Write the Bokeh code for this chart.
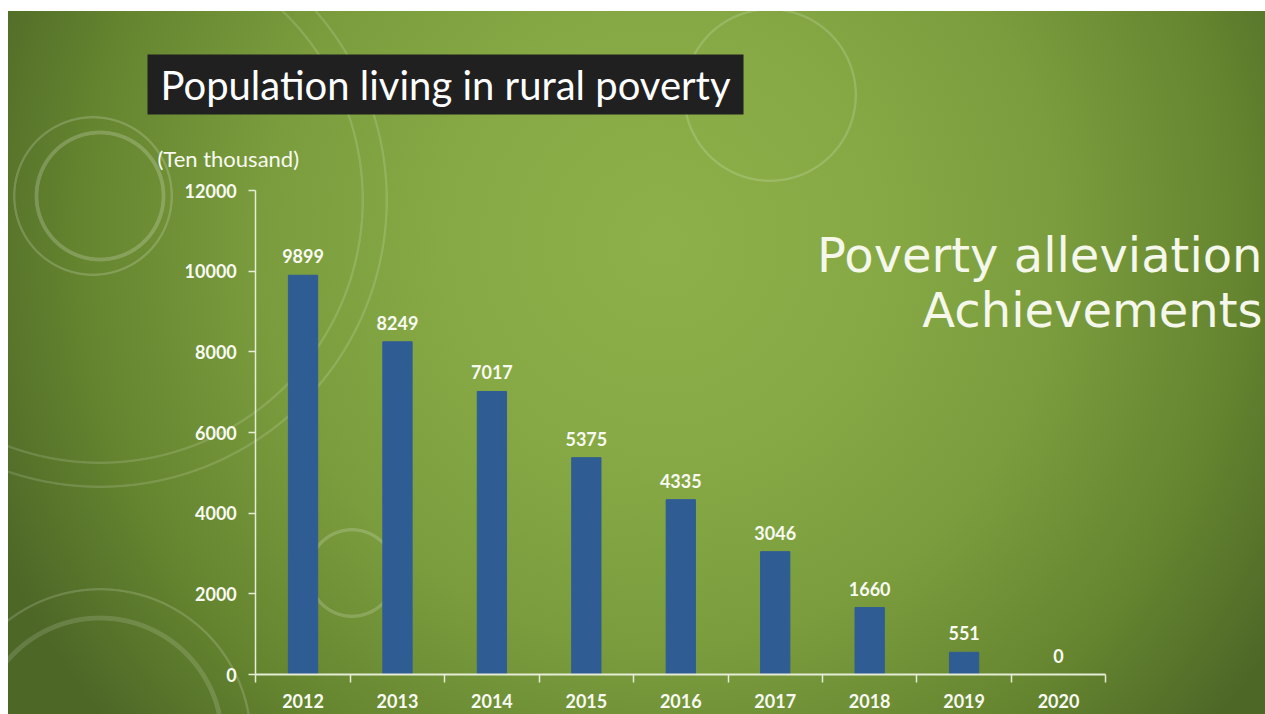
from bokeh.plotting import figure
from bokeh.models import Range1d, FixedTicker, Label, ColumnDataSource
from bokeh.core.properties import value
from bokeh.embed import file_html
from bokeh.resources import INLINE

# ---- data ----
years = ["2012", "2013", "2014", "2015", "2016", "2017", "2018", "2019", "2020"]
population = [9899, 8249, 7017, 5375, 4335, 3046, 1660, 551, 0]
y_ticks = [0, 2000, 4000, 6000, 8000, 10000, 12000]
title_text = "Population living in rural poverty"
unit_text = "(Ten thousand)"
headline_1 = "Poverty alleviation"
headline_2 = "Achievements"

# ---- style ----
BAR = "#305c94"
AXIS = "#e6ecd6"
TXT = "#f8faf2"
FONT = "Lato"
W, H = 1257, 703
X0 = 247.3                # px from canvas left to category 0
XS = 94.44                # px per category
Y0 = 663                  # px from canvas top to value 0
YS = 484 / 12000          # px per unit

n = len(years)
xs = [i + 0.5 for i in range(n)]
src = ColumnDataSource(dict(x=xs, year=years, pop=population,
                            lbl=[str(v) for v in population]))

x_start, x_end = -X0 / XS, (W - X0) / XS
y_start, y_end = -(H - Y0) / YS, Y0 / YS

def ring(cx, cy, r, w, a):
    c = f"rgba(255,255,255,{a})"
    return (f"radial-gradient(circle at {cx}px {cy}px, transparent {r - 0.8}px, {c} {r}px, "
            f"{c} {r + w}px, transparent {r + w + 0.8}px)")

rings = [ring(85, 185, 78, 1.5, 0.18), ring(92, 185, 62, 3, 0.20),
         ring(92, 189, 262, 1.5, 0.14), ring(92, 189, 286, 1.5, 0.14),
         ring(762, 84, 85, 1.5, 0.16), ring(344, 562, 42, 2.5, 0.18),
         ring(92, 729, 150, 1.5, 0.16), ring(92, 729, 120, 4, 0.14)]
base = ("radial-gradient(ellipse 58% 105% at 52% 33%, #8db04a 0%, #86a945 30%, "
        "#7a9c3d 55%, #64842f 80%, #4d6727 100%)")

p = figure(width=W, height=H, output_backend="svg", toolbar_location=None,
           x_range=Range1d(x_start, x_end), y_range=Range1d(y_start, y_end))
p.min_border_left = 0
p.min_border_right = 0
p.min_border_top = 0
p.min_border_bottom = 0
p.background_fill_color = None
p.border_fill_color = None
p.outline_line_color = None
p.grid.visible = False
p.styles = {"margin-left": "8px", "margin-top": "11px",
            "background": ", ".join(rings + [base])}

p.vbar(x="x", top="pop", width=0.31, source=src, color=BAR)
p.text(x="x", y="pop", text="lbl", source=src, text_align="center",
       text_baseline="bottom", y_offset=-12, text_color=TXT,
       text_font=value(FONT), text_font_style="bold", text_font_size="18px")

# x axis: labels at centres, ticks at category boundaries
xa = p.xaxis[0]
xa.fixed_location = 0
xa.bounds = (0, n)
xa.ticker = FixedTicker(ticks=xs, minor_ticks=list(range(n + 1)))
xa.major_label_overrides = {x: y for x, y in zip(xs, years)}
xa.major_tick_out = 0
xa.major_tick_in = 0
xa.minor_tick_out = 8
xa.minor_tick_in = 0
xa.minor_tick_line_color = AXIS
xa.minor_tick_line_width = 1.5
xa.axis_line_color = AXIS
xa.axis_line_width = 1.8
xa.major_label_standoff = 11
xa.major_label_text_color = TXT
xa.major_label_text_font = FONT
xa.major_label_text_font_style = "bold"
xa.major_label_text_font_size = "18px"

ya = p.yaxis[0]
ya.fixed_location = 0
ya.bounds = (0, 12000)
ya.ticker = FixedTicker(ticks=y_ticks)
ya.major_tick_out = 7
ya.major_tick_in = 0
ya.minor_tick_out = 0
ya.minor_tick_in = 0
ya.major_tick_line_color = AXIS
ya.major_tick_line_width = 1.5
ya.axis_line_color = AXIS
ya.axis_line_width = 1.5
ya.major_label_standoff = 12
ya.major_label_text_color = TXT
ya.major_label_text_font = FONT
ya.major_label_text_font_style = "bold"
ya.major_label_text_font_size = "18px"

# texts (screen units relative to frame: x from frame left, y up from frame bottom)
p.add_layout(Label(x=139, y=630, x_units="screen", y_units="screen",
                   text=title_text, text_color="#ffffff", text_font=FONT,
                   text_font_size="40px", text_align="left", text_baseline="middle",
                   background_fill_color="#202020", padding=(13, 6)))
p.add_layout(Label(x=149, y=556, x_units="screen", y_units="screen",
                   text=unit_text, text_color=TXT, text_font=FONT,
                   text_font_size="22px", text_align="left", text_baseline="middle"))
p.add_layout(Label(x=1254, y=460, x_units="screen", y_units="screen",
                   text=headline_1, text_color="#f4f7ea", text_font="DejaVu Sans",
                   text_font_size="48px", text_align="right", text_baseline="alphabetic"))
p.add_layout(Label(x=1254, y=405, x_units="screen", y_units="screen",
                   text=headline_2, text_color="#f4f7ea", text_font="DejaVu Sans",
                   text_font_size="48px", text_align="right", text_baseline="alphabetic"))

open("out.html", "w").write(file_html(p, INLINE))
